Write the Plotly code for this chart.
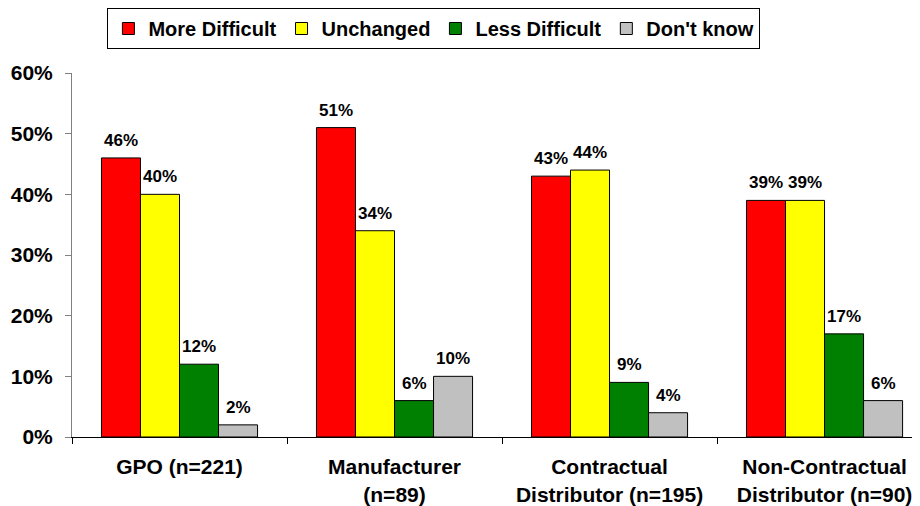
import plotly.graph_objects as go

categories = ["GPO (n=221)", "Manufacturer<br>(n=89)", "Contractual<br>Distributor (n=195)", "Non-Contractual<br>Distributor (n=90)"]
series_names = ["More Difficult", "Unchanged", "Less Difficult", "Don't know"]
more_difficult = [46, 51, 43, 39]
unchanged = [40, 34, 44, 39]
less_difficult = [12, 6, 9, 17]
dont_know = [2, 10, 4, 6]
colors = ["#FF0000", "#FFFF00", "#008000", "#C0C0C0"]
y_ticks = [0, 10, 20, 30, 40, 50, 60]

FONT = "Arial, Liberation Sans, sans-serif"
# the page body has an 8px margin, so the figure is sized to fit the 920x506 window
W, H = 912, 498
ML, MR, MT, MB = 64, 0, 65, 69
X_RANGE = [-0.5, 3.444]
BARGAP = 0.274

all_series = [more_difficult, unchanged, less_difficult, dont_know]

fig = go.Figure()
for name, vals, col in zip(series_names, all_series, colors):
    fig.add_trace(go.Bar(
        name=name, x=categories, y=vals,
        marker=dict(color=col, line=dict(color="#000000", width=1)),
    ))

# data labels above bars (offset within group derived from layout)
cat_px = (W - ML - MR) / (X_RANGE[1] - X_RANGE[0])
bar_px = cat_px * (1 - BARGAP) / len(all_series)
for i, vals in enumerate(all_series):
    for cat, v in zip(categories, vals):
        fig.add_annotation(
            x=cat, y=v, xref="x", yref="y", text=f"{v}%", showarrow=False,
            xanchor="center", yanchor="bottom",
            xshift=(i - (len(all_series) - 1) / 2) * bar_px, yshift=6,
            font=dict(family=FONT, size=17, color="#000000", weight="bold"),
        )

fig.update_layout(
    width=W, height=H,
    margin=dict(l=ML, r=MR, t=MT, b=MB, autoexpand=False),
    paper_bgcolor="white", plot_bgcolor="white",
    barmode="group", bargap=BARGAP, bargroupgap=0,
    font=dict(family=FONT, size=20, color="#000000", weight="bold"),
    showlegend=True,
    legend=dict(
        orientation="h", xref="container", yref="container",
        x=0.467, xanchor="center", y=1.0, yanchor="top",
        bordercolor="#000000", borderwidth=1,
        font=dict(family=FONT, size=20, color="#000000", weight="bold"),
        itemwidth=30, tracegroupgap=0,
    ),
)
fig.update_xaxes(
    type="category", range=X_RANGE, tickson="boundaries",
    ticks="outside", ticklen=6, tickcolor="#000000",
    showline=True, linecolor="#000000", linewidth=1,
    showgrid=False, zeroline=False,
    tickfont=dict(family=FONT, size=21, color="#000000", weight="bold"),
    ticklabelstandoff=11,
)
fig.update_yaxes(
    range=[0, 60], tickvals=y_ticks, ticktext=[f"{t}%" for t in y_ticks],
    ticks="outside", ticklen=6, tickcolor="#808080",
    showline=True, linecolor="#808080", linewidth=1,
    showgrid=False, zeroline=False,
    tickfont=dict(family=FONT, size=21, color="#000000", weight="bold"),
    ticklabelstandoff=8,
)
fig.write_html("out.html")
